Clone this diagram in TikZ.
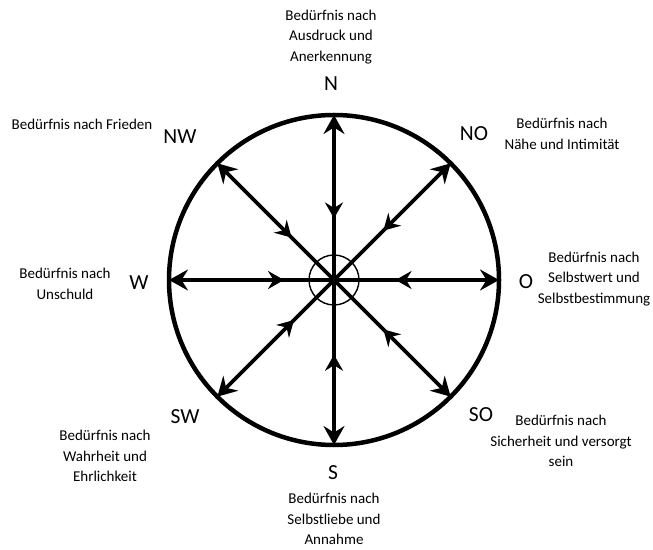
\documentclass[tikz,border=0pt]{standalone}
\usepackage{fontspec}
\setmainfont{Carlito}
\usetikzlibrary{arrows.meta,decorations.markings}
\tikzset{
  headtip/.tip={Stealth[length=19pt,width=21pt,inset=6.5pt]},
  midtip/.tip={Stealth[length=16pt,width=18pt,inset=5.5pt,reversed]},
  spoke/.style={line width=3.6pt, -headtip, postaction={decorate},
    decoration={markings, mark=at position #1 with {\arrow{midtip}}}},
  dirlbl/.style={font=\fontsize{21.5}{24}\selectfont, inner sep=0pt},
  needtxt/.style={font=\fontsize{15}{20.5}\selectfont, align=center, inner sep=0pt},
}
\begin{document}
\begin{tikzpicture}[x=1pt,y=1pt]
\useasboundingbox (0,0) rectangle (653,549);
\coordinate (c) at (334,269);
\draw[line width=4.5pt] (c) circle (165);
\draw[line width=1.4pt] (c) circle (25);
\coordinate (pN) at (334,434);
\coordinate (pS) at (334,104);
\coordinate (pE) at (499,269);
\coordinate (pW) at (169,269);
\coordinate (pNE) at (450.7,385.7);
\coordinate (pNW) at (217.3,385.7);
\coordinate (pSW) at (217.3,152.3);
\coordinate (pSE) at (450.7,152.3);
\draw[spoke=0.47] (c) -- (pN);
\draw[spoke=0.55] (c) -- (pS);
\draw[spoke=0.47] (c) -- (pE);
\draw[spoke=0.40] (c) -- (pW);
\draw[spoke=0.52] (c) -- (pNE);
\draw[spoke=0.46] (c) -- (pNW);
\draw[spoke=0.44] (c) -- (pSW);
\draw[spoke=0.52] (c) -- (pSE);
% direction labels
\node[dirlbl] (lN) at (331,465) {N};
\node[dirlbl] (lNW) at (180,412) {NW};
\node[dirlbl] (lNO) at (474,415) {NO};
\node[dirlbl] (lW) at (139,266) {W};
\node[dirlbl] (lO) at (526,267) {O};
\node[dirlbl] (lSW) at (185,132) {SW};
\node[dirlbl] (lSO) at (481,134) {SO};
\node[dirlbl] (lS) at (333,76) {S};
% need texts
\node[needtxt] (tN) at (331,512) {Bedürfnis nach\\Ausdruck und\\Anerkennung};
\node[needtxt] (tNW) at (82,425) {Bedürfnis nach Frieden};
\node[needtxt] (tNO) at (562,415) {Bedürfnis nach\\Nähe und Intimität};
\node[needtxt] (tW) at (65,265) {Bedürfnis nach\\Unschuld};
\node[needtxt] (tO) at (594,270) {Bedürfnis nach\\Selbstwert und\\Selbstbestimmung};
\node[needtxt] (tSW) at (105,93) {Bedürfnis nach\\Wahrheit und\\Ehrlichkeit};
\node[needtxt] (tSO) at (561,108) {Bedürfnis nach\\Sicherheit und versorgt\\sein};
\node[needtxt] (tS) at (334,30) {Bedürfnis nach\\Selbstliebe und\\Annahme};
\end{tikzpicture}
\end{document}
